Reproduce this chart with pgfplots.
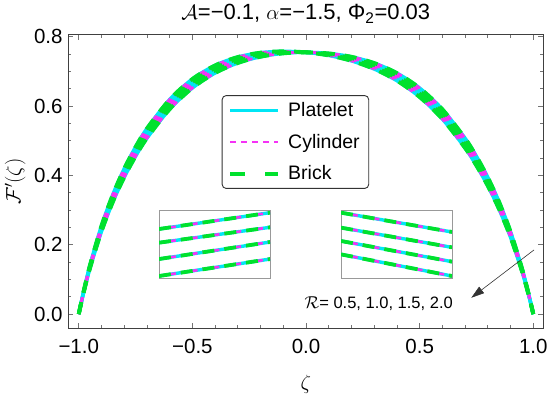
\documentclass[border=0pt]{standalone}
\usepackage{fontspec}
\setmainfont{Liberation Sans}
\usepackage{pgfplots}
\pgfplotsset{compat=1.18}
\usepackage{pgfplotstable}
\usetikzlibrary{arrows.meta}
\definecolor{pcyan}{RGB}{0,230,245}
\definecolor{pmag}{RGB}{245,50,245}
\definecolor{pgreen}{RGB}{0,225,45}
\pgfplotstableread{
z r05 r10 r15 r20
-1 0 0 0 0
-0.98 0.05730 0.05882 0.06028 0.06179
-0.95 0.13301 0.13642 0.13971 0.14312
-0.9 0.23787 0.24365 0.24922 0.25500
-0.85 0.32317 0.33059 0.33773 0.34515
-0.8 0.39441 0.40293 0.41113 0.41965
-0.75 0.45502 0.46423 0.47311 0.48232
-0.7 0.50713 0.51671 0.52595 0.53553
-0.6 0.59082 0.60039 0.60961 0.61918
-0.5 0.65207 0.66087 0.66935 0.67815
-0.4 0.69525 0.70276 0.70999 0.71750
-0.3 0.72417 0.73004 0.73568 0.74155
-0.2 0.74220 0.74621 0.75007 0.75408
-0.1 0.75193 0.75396 0.75592 0.75795
0 0.755 0.755 0.755 0.755
0.1 0.75193 0.74990 0.74795 0.74592
0.2 0.74220 0.73819 0.73433 0.73033
0.3 0.72417 0.71830 0.71266 0.70679
0.4 0.69525 0.68774 0.68051 0.67300
0.5 0.65207 0.64327 0.63479 0.62599
0.6 0.59082 0.58125 0.57203 0.56246
0.7 0.50713 0.49755 0.48832 0.47873
0.75 0.45502 0.44581 0.43693 0.42772
0.8 0.39441 0.38589 0.37769 0.36917
0.85 0.32317 0.31575 0.30861 0.30119
0.9 0.23787 0.23209 0.22652 0.22074
0.95 0.13301 0.12960 0.12631 0.12290
0.98 0.05730 0.05578 0.05432 0.05281
1 0 0 0 0
}\profile
\pgfplotstableread{
x a b c d
0 0.039 0.286 0.524 0.723
1 0.286 0.534 0.748 0.961
}\insetL
\pgfplotstableread{
x a b c d
0 0.961 0.743 0.549 0.354
1 0.680 0.456 0.248 0.039
}\insetR
\tikzset{
  plat/.style={color=pcyan, line width=3.4bp, solid},
  cyl/.style={color=pmag, line width=2.6bp, dash pattern=on 6bp off 5bp},
  brk/.style={color=pgreen, line width=3.8bp, dash pattern=on 12bp off 10bp},
  brkleg/.style={color=pgreen, line width=4bp, dash pattern=on 15bp off 20bp},
}
\pgfplotsset{
  inset/.style={scale only axis, width=111bp, height=68.7bp,
    xmin=0, xmax=1, ymin=0, ymax=1, xtick=\empty, ytick=\empty,
    axis line style={black!40, line width=0.8bp}, anchor=south west},
}
\begin{document}
\begin{tikzpicture}
\begin{axis}[name=main, at={(0,0)}, anchor=south west,
  scale only axis, width=475bp, height=293.3bp,
  xmin=-1.046, xmax=1.044, ymin=-0.041, ymax=0.805,
  xtick={-1,-0.5,0,0.5,1},
  xticklabels={−1.0,−0.5,0.0,0.5,1.0},
  ytick={0,0.2,0.4,0.6,0.8},
  yticklabels={0.0,0.2,0.4,0.6,0.8},
  minor x tick num=4, minor y tick num=3,
  tick align=inside, major tick length=5bp, minor tick length=3bp,
  tick style={black!55, line width=0.7bp},
  axis line style={black!75, line width=1bp},
  xticklabel style={font=\fontsize{20.5bp}{23bp}\selectfont, anchor=base, inner sep=0pt, yshift=-25bp},
  yticklabel style={font=\fontsize{20.5bp}{23bp}\selectfont, anchor=east, inner sep=0pt, xshift=-5.6bp},
  every axis title shift=0pt,
  title={$\mathcal{A}$=−0.1, $\alpha$=−1.5, Φ\textsubscript{2}=0.03},
  title style={font=\fontsize{22bp}{26bp}\selectfont, at={(0.5,1)}, anchor=base, inner sep=0pt, yshift=15bp},
  xlabel={$\zeta$},
  xlabel style={font=\fontsize{20bp}{24bp}\selectfont, at={(axis description cs:0.5,0)}, anchor=base, inner sep=0pt, yshift=-61bp},
  ylabel={$\mathcal{F}'(\zeta)$},
  ylabel style={font=\fontsize{19bp}{23bp}\selectfont, at={(axis description cs:0,0.5)}, anchor=center, inner sep=0pt, yshift=53bp},
  legend image code/.code={\draw[#1] (0bp,0bp) -- (48bp,0bp);},
  legend cell align=left,
  legend style={at={(0.323,0.795)}, anchor=north west, draw=black!80, line width=0.9bp,
    rounded corners=4bp, inner xsep=6bp, inner ysep=4bp, row sep=10bp, column sep=5bp,
    font=\fontsize{19.5bp}{22bp}\selectfont, nodes={inner sep=3bp}},
]
\addplot[plat, smooth, forget plot] table[x=z, y=r05] {\profile};
\addplot[plat, smooth, forget plot] table[x=z, y=r10] {\profile};
\addplot[plat, smooth, forget plot] table[x=z, y=r15] {\profile};
\addplot[plat, smooth, forget plot] table[x=z, y=r20] {\profile};
\addplot[cyl, smooth, forget plot] table[x=z, y=r05] {\profile};
\addplot[cyl, smooth, forget plot] table[x=z, y=r10] {\profile};
\addplot[cyl, smooth, forget plot] table[x=z, y=r15] {\profile};
\addplot[cyl, smooth, forget plot] table[x=z, y=r20] {\profile};
\addplot[brk, smooth, forget plot] table[x=z, y=r05] {\profile};
\addplot[brk, smooth, forget plot] table[x=z, y=r10] {\profile};
\addplot[brk, smooth, forget plot] table[x=z, y=r15] {\profile};
\addplot[brk, smooth, forget plot] table[x=z, y=r20] {\profile};
\addlegendimage{plat}\addlegendentry{Platelet}
\addlegendimage{cyl}\addlegendentry{Cylinder}
\addlegendimage{brkleg}\addlegendentry{Brick}
\draw[black!80, line width=0.6bp, -{Triangle[length=13bp,width=8bp]}] (axis cs:1.003,0.185) -- (axis cs:0.727,0.047);
\node[font=\fontsize{16.5bp}{20bp}\selectfont] at (axis cs:0.32,0.031) {$\mathcal{R}$= 0.5, 1.0, 1.5, 2.0};
\end{axis}
\begin{axis}[inset, at={(90.7bp,49.6bp)}]
\foreach \c in {a,b,c,d} {\addplot[plat] table[x=x, y=\c] {\insetL};}
\foreach \c in {a,b,c,d} {\addplot[cyl] table[x=x, y=\c] {\insetL};}
\foreach \c in {a,b,c,d} {\addplot[brk] table[x=x, y=\c] {\insetL};}
\end{axis}
\begin{axis}[inset, at={(272.7bp,49.6bp)}]
\foreach \c in {a,b,c,d} {\addplot[plat] table[x=x, y=\c] {\insetR};}
\foreach \c in {a,b,c,d} {\addplot[cyl] table[x=x, y=\c] {\insetR};}
\foreach \c in {a,b,c,d} {\addplot[brk] table[x=x, y=\c] {\insetR};}
\end{axis}
\pgfresetboundingbox
\path (-68.3bp,-65.7bp) rectangle (481.7bp,328.3bp);
\end{tikzpicture}
\end{document}
